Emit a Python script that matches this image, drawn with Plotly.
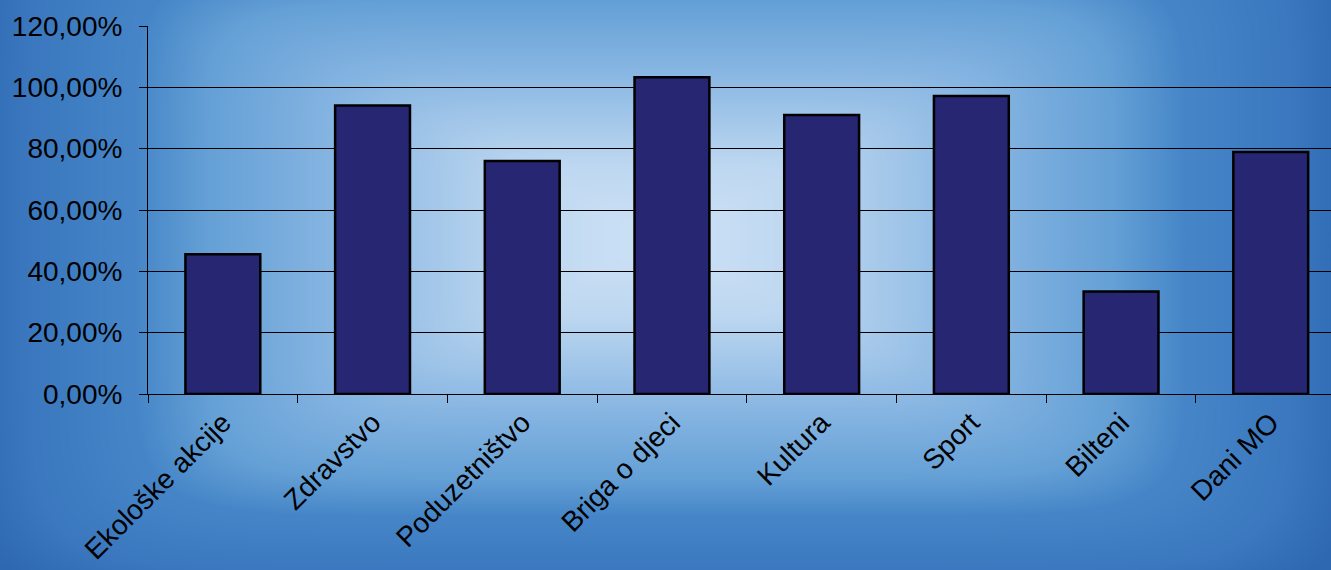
import base64, struct, zlib
import numpy as np
import plotly.graph_objects as go

categories = ["Ekološke akcije", "Zdravstvo", "Poduzetništvo", "Briga o djeci",
              "Kultura", "Sport", "Bilteni", "Dani MO"]
values = [45.6, 94.1, 76.0, 103.3, 91.0, 97.2, 33.4, 78.9]
y_tick_vals = [0, 20, 40, 60, 80, 100, 120]
y_tick_text = ["0,00%", "20,00%", "40,00%", "60,00%", "80,00%", "100,00%", "120,00%"]

W, H = 1331, 570
L, R, T, B = 148, 0, 26, 176
PW, PH = W - L - R, H - T - B

# ---- background: rectangular "from centre" gradient as PNG ----
cx, cy, ax, ay = 660.0, 240.0, 700.0, 368.0
xs = np.arange(W)[None, :]
ys = np.arange(H)[:, None]
dx = np.abs(xs - cx) / ax
dy = np.abs(ys - cy) / ay
p = 8.0
t = (dx ** p + dy ** p) ** (1.0 / p)
t = np.clip(t, 0, 1)
stops_t = [0.0, 0.2, 0.47, 0.65, 0.75, 0.9, 1.0]
stops_c = [(206, 226, 246), (190, 216, 241), (134, 181, 226), (100, 160, 214),
           (70, 134, 200), (59, 120, 191), (45, 104, 176)]
img = np.zeros((H, W, 3), dtype=np.float64)
for ch in range(3):
    img[:, :, ch] = np.interp(t, stops_t, [c[ch] for c in stops_c])
img = np.clip(img, 0, 255).astype(np.uint8)

def png_bytes(arr):
    h, w, _ = arr.shape
    raw = b"".join(b"\x00" + arr[i].tobytes() for i in range(h))
    def chunk(tag, data):
        c = struct.pack(">I", len(data)) + tag + data
        return c + struct.pack(">I", zlib.crc32(tag + data) & 0xffffffff)
    return (b"\x89PNG\r\n\x1a\n" + chunk(b"IHDR", struct.pack(">IIBBBBB", w, h, 8, 2, 0, 0, 0))
            + chunk(b"IDAT", zlib.compress(raw, 9)) + chunk(b"IEND", b""))

src = "data:image/png;base64," + base64.b64encode(png_bytes(img)).decode()

fig = go.Figure(go.Bar(
    x=categories, y=values, width=0.5,
    marker=dict(color="#262673", line=dict(color="black", width=2.5)),
    hoverinfo="skip",
))

cat_px = 149.7
fig.update_layout(
    width=W, height=H,
    margin=dict(l=L, r=R, t=T, b=B, pad=0),
    paper_bgcolor="#3572b8", plot_bgcolor="rgba(0,0,0,0)",
    showlegend=False,
    font=dict(family="Liberation Sans, Arial, sans-serif", size=28, color="black"),
    images=[dict(source=src, xref="paper", yref="paper",
                 x=-L / PW, y=1 + T / PH, sizex=W / PW, sizey=H / PH,
                 xanchor="left", yanchor="top", sizing="stretch", layer="below")],
    xaxis=dict(
        type="category", range=[-0.5, -0.5 + PW / cat_px],
        tickson="boundaries", ticks="outside", ticklen=8, tickcolor="black", tickwidth=1,
        tickangle=-45, showgrid=False, showline=True, linecolor="black", linewidth=1,
        zeroline=False, tickfont=dict(size=28),
    ),
    yaxis=dict(
        range=[0, 120], tickvals=y_tick_vals, ticktext=y_tick_text,
        ticks="outside", ticklen=8, tickcolor="black", tickwidth=1,
        showgrid=True, gridcolor="black", gridwidth=1,
        showline=True, linecolor="black", linewidth=1, zeroline=False,
        ticklabelstandoff=11, tickfont=dict(size=28),
    ),
)

fig.write_html(
    "out.html",
    config={"displayModeBar": False, "staticPlot": True},
    post_script="document.body.style.margin='0';document.body.style.padding='0';"
                "document.body.style.overflow='hidden';",
)
